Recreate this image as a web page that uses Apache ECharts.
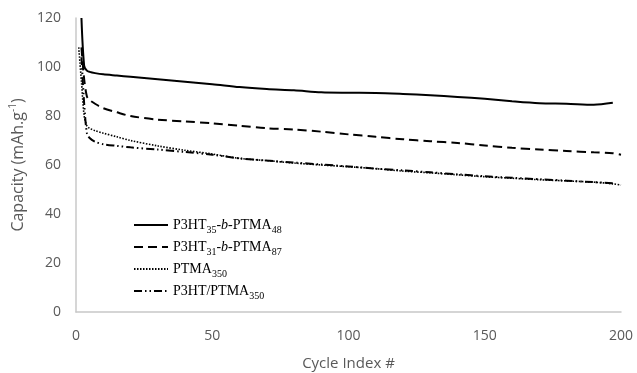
<!DOCTYPE html>
<html>
<head>
<meta charset="utf-8">
<script src="https://cdn.jsdelivr.net/npm/echarts@6/dist/echarts.min.js"></script>
<style>
html,body{margin:0;padding:0;background:#fff;}
#chart{width:637px;height:373px;}
</style>
</head>
<body>
<div id="chart"></div>
<script>
// Data
const cycles = [1, 2, 3, 4, 5, 7, 10, 15, 20, 30, 40, 50, 60, 70, 80, 90, 100, 110, 120, 130, 140, 150, 160, 170, 180, 190, 197, 200];
const p3ht35_ptma48 = [null, 120, 100.5, 98.5, 98, 97.5, 97, 96.5, 96, 95, 94, 93, 91.8, 91, 90.5, 89.7, 89.5, 89.4, 89, 88.5, 87.8, 87, 86, 85.2, 85, 84.6, 85.4, null];
const p3ht31_ptma87 = [null, 108, 95, 88, 86.5, 85, 83.2, 81.5, 80, 78.5, 77.8, 77, 76, 75, 74.5, 73.6, 72.5, 71.5, 70.5, 69.7, 69, 68, 67, 66.3, 65.7, 65.2, 64.8, 64.2];
const ptma350 = [108, 94, 80, 76, 75, 74, 73, 71.5, 70, 67.8, 66, 64.5, 62.7, 61.8, 60.8, 60, 59.3, 58.5, 57.5, 56.8, 56, 55.2, 54.6, 54, 53.5, 53, 52.3, 51.8];
const p3ht_ptma350 = [null, 104, 85, 73, 71, 69.5, 68.5, 67.8, 67.2, 66.3, 65.3, 64.2, 62.7, 61.8, 61, 60.2, 59.4, 58.5, 57.8, 57, 56.2, 55.4, 54.8, 54.2, 53.6, 53, 52.6, null];
const seriesNames = ['P3HT35-b-PTMA48', 'P3HT31-b-PTMA87', 'PTMA350', 'P3HT/PTMA350'];
const legendLabels = [
  '{n|P3HT}{s|35}{n|-}{i|b}{n|-PTMA}{s|48}',
  '{n|P3HT}{s|31}{n|-}{i|b}{n|-PTMA}{s|87}',
  '{n|PTMA}{s|350}',
  '{n|P3HT/PTMA}{s|350}'
];
const xTicks = {min: 0, max: 200, interval: 50};
const yTicks = {min: 0, max: 120, interval: 20};

function pairs(vals) {
  return cycles.map((c, i) => [c, vals[i]]);
}

const chart = echarts.init(document.getElementById('chart'), null, {renderer: 'canvas'});
const lineStyles = [
  {width: 2, type: 'solid'},
  {width: 2, type: [9, 5]},
  {width: 1.6, type: [1.5, 1.5]},
  {width: 2, type: [8, 3, 1.5, 3, 1.5, 3]}
];
const allData = [p3ht35_ptma48, p3ht31_ptma87, ptma350, p3ht_ptma350];

const serif = 'Liberation Serif';
chart.setOption({
  animation: false,
  backgroundColor: '#fff',
  grid: {left: 76, right: 16, top: 18, bottom: 61, containLabel: false, outerBoundsMode: 'none'},
  legend: {
    orient: 'vertical',
    left: 128,
    top: 211,
    itemWidth: 34,
    itemHeight: 14,
    itemGap: 3,
    data: seriesNames,
    itemStyle: {opacity: 0},
    formatter: function (name) { return legendLabels[seriesNames.indexOf(name)]; },
    textStyle: {
      color: '#000',
      rich: {
        n: {fontFamily: serif, fontSize: 14, color: '#000', lineHeight: 18},
        i: {fontFamily: serif, fontSize: 14, fontStyle: 'italic', color: '#000', lineHeight: 18},
        s: {fontFamily: serif, fontSize: 10, color: '#000', lineHeight: 18, verticalAlign: 'top', padding: [9, 0, 0, 0]}
      }
    }
  },
  xAxis: {
    type: 'value',
    min: xTicks.min, max: xTicks.max, interval: xTicks.interval,
    name: 'Cycle Index #',
    nameLocation: 'middle',
    nameGap: 44,
    nameTextStyle: {fontFamily: 'Open Sans', fontSize: 15, color: '#595959'},
    axisLine: {show: true, lineStyle: {color: '#c8c8c8', width: 1.5}},
    axisTick: {show: false},
    splitLine: {show: false},
    axisLabel: {fontFamily: 'Open Sans', fontSize: 14, color: '#595959', margin: 17}
  },
  yAxis: {
    type: 'value',
    min: yTicks.min, max: yTicks.max, interval: yTicks.interval,
    name: '{a|Capacity (mAh.g}{b|-1}{a|)}',
    nameLocation: 'middle',
    nameRotate: 90,
    nameGap: 46,
    nameTextStyle: {
      rich: {
        a: {fontFamily: 'Open Sans', fontSize: 16, color: '#595959', lineHeight: 20},
        b: {fontFamily: 'Open Sans', fontSize: 10, color: '#595959', lineHeight: 20, verticalAlign: 'top', padding: [0, 0, 0, 0]}
      }
    },
    axisLine: {show: true, lineStyle: {color: '#c8c8c8', width: 1.5}},
    axisTick: {show: false},
    splitLine: {show: false},
    axisLabel: {fontFamily: 'Open Sans', fontSize: 14, color: '#595959', margin: 15}
  },
  series: seriesNames.map((n, k) => ({
    name: n,
    type: 'line',
    data: pairs(allData[k]),
    showSymbol: false,
    symbol: 'none',
    smooth: 0.3,
    clip: true,
    connectNulls: false,
    color: '#000',
    lineStyle: Object.assign({color: '#000'}, lineStyles[k])
  }))
});
</script>
</body>
</html>
